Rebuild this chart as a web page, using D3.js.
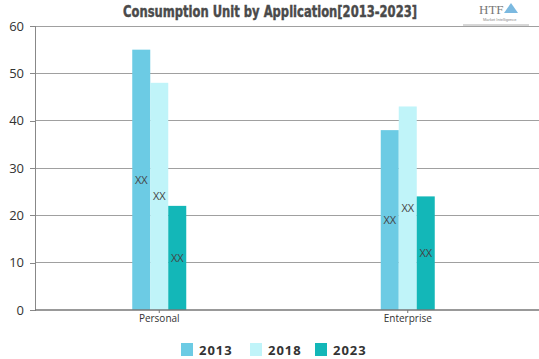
<!DOCTYPE html>
<html><head><meta charset="utf-8">
<script src="https://cdnjs.cloudflare.com/ajax/libs/d3/7.8.5/d3.min.js"></script>
<style>body{margin:0;background:#fff;}svg{display:block;}</style>
</head><body>
<script>
const categories = ["Personal", "Enterprise"];
const seriesNames = ["2013", "2018", "2023"];
const values2013 = [55, 38];
const values2018 = [48, 43];
const values2023 = [22, 24];
const yTicks = [0, 10, 20, 30, 40, 50, 60];
const colors = ["#6ccbe4", "#c0f4f9", "#13b7b8"];
const barLabel = "XX";

const W = 539, H = 359;
const svg = d3.select("body").append("svg").attr("width", W).attr("height", H);
const m = {left: 35, right: 7, top: 26, bottom: 49};

const x = d3.scaleBand().domain(categories).range([m.left, W - m.right]);
const y = d3.scaleLinear().domain([0, 60]).range([H - m.bottom, m.top]);
const xs = d3.scaleBand().domain(seriesNames).range([0, 54]);

// gridlines
svg.append("g").selectAll("line").data(yTicks.filter(d => d > 0)).join("line")
  .attr("x1", m.left).attr("x2", W).attr("y1", d => y(d)).attr("y2", d => y(d))
  .attr("stroke", "#a0a0a0").attr("stroke-width", 1).attr("shape-rendering", "crispEdges");

// y axis
const ya = svg.append("g").attr("transform", `translate(${m.left},0)`)
  .call(d3.axisLeft(y).tickValues(yTicks).tickSize(5).tickPadding(6));
ya.select(".domain").attr("stroke", "#888").attr("shape-rendering", "crispEdges");
ya.selectAll(".tick line").attr("stroke", "#888").attr("shape-rendering", "crispEdges");
ya.selectAll("text").attr("font-family", "'Open Sans', 'DejaVu Sans', sans-serif").attr("font-size", 13).attr("fill", "#333");

// bars
const series = [values2013, values2018, values2023];
const groups = svg.append("g");
series.forEach((vals, si) => {
  const g = groups.append("g");
  g.selectAll("rect").data(categories).join("rect")
    .attr("x", (c) => x(c) + x.bandwidth() / 2 - 27 + xs(seriesNames[si]))
    .attr("width", xs.bandwidth())
    .attr("y", (c, i) => y(vals[i]))
    .attr("height", (c, i) => y(0) - y(vals[i]))
    .attr("fill", colors[si]);
  g.selectAll("text").data(categories).join("text")
    .attr("x", (c) => x(c) + x.bandwidth() / 2 - 27 + xs(seriesNames[si]) + xs.bandwidth() / 2)
    .attr("y", (c, i) => (y(vals[i]) + y(0)) / 2 + 4)
    .attr("text-anchor", "middle")
    .attr("font-family", "'Open Sans', 'DejaVu Sans', sans-serif")
    .attr("font-size", 11).attr("fill", "#444")
    .text(barLabel);
});

// x axis
const xa = svg.append("g").attr("transform", `translate(0,${y(0)})`)
  .call(d3.axisBottom(x).tickSize(3).tickPadding(2));
xa.select(".domain").attr("stroke", "#777").attr("stroke-width", 1.5).attr("d", `M${m.left},0H${W}`);
xa.selectAll(".tick line").attr("stroke", "#777");
xa.selectAll("text").attr("font-family", "'Open Sans', 'DejaVu Sans', sans-serif").attr("font-size", 10).attr("fill", "#333");

// title
svg.append("text").attr("x", 270).attr("y", 17).attr("text-anchor", "middle")
  .attr("font-family", "'Liberation Sans Narrow', 'DejaVu Sans Condensed', sans-serif")
  .attr("font-weight", "900").attr("font-size", 15).attr("fill", "#4a4a4a")
  .attr("stroke", "#4a4a4a").attr("stroke-width", 0.4)
  .attr("textLength", 294).attr("lengthAdjust", "spacingAndGlyphs")
  .text("Consumption Unit by  Application[2013-2023]");

// logo
svg.append("text").attr("x", 479).attr("y", 14).attr("font-family", "'Liberation Serif', serif")
  .attr("font-size", 13).attr("fill", "#777").text("HTF");
svg.append("path").attr("d", "M504,13 L511,3 L518,13 Z").attr("fill", "#5aa8d8").attr("opacity", 0.8);
svg.append("text").attr("x", 483).attr("y", 21).attr("font-family", "sans-serif")
  .attr("font-size", 4).attr("fill", "#888").text("Market Intelligence");
svg.append("line").attr("x1", 463).attr("x2", 529).attr("y1", 25).attr("y2", 25).attr("stroke", "#999").attr("stroke-width", 0.8);

// legend
const legendX = [181, 250, 315];
const lg = svg.append("g");
seriesNames.forEach((s, i) => {
  lg.append("rect").attr("x", legendX[i]).attr("y", 343).attr("width", 12).attr("height", 13).attr("fill", colors[i]);
  lg.append("text").attr("x", legendX[i] + 18).attr("y", 354.5)
    .attr("font-family", "'Open Sans', 'DejaVu Sans', sans-serif").attr("font-weight", "bold")
    .attr("font-size", 13).attr("fill", "#333").attr("letter-spacing", 1).text(s);
});
</script>
</body></html>
